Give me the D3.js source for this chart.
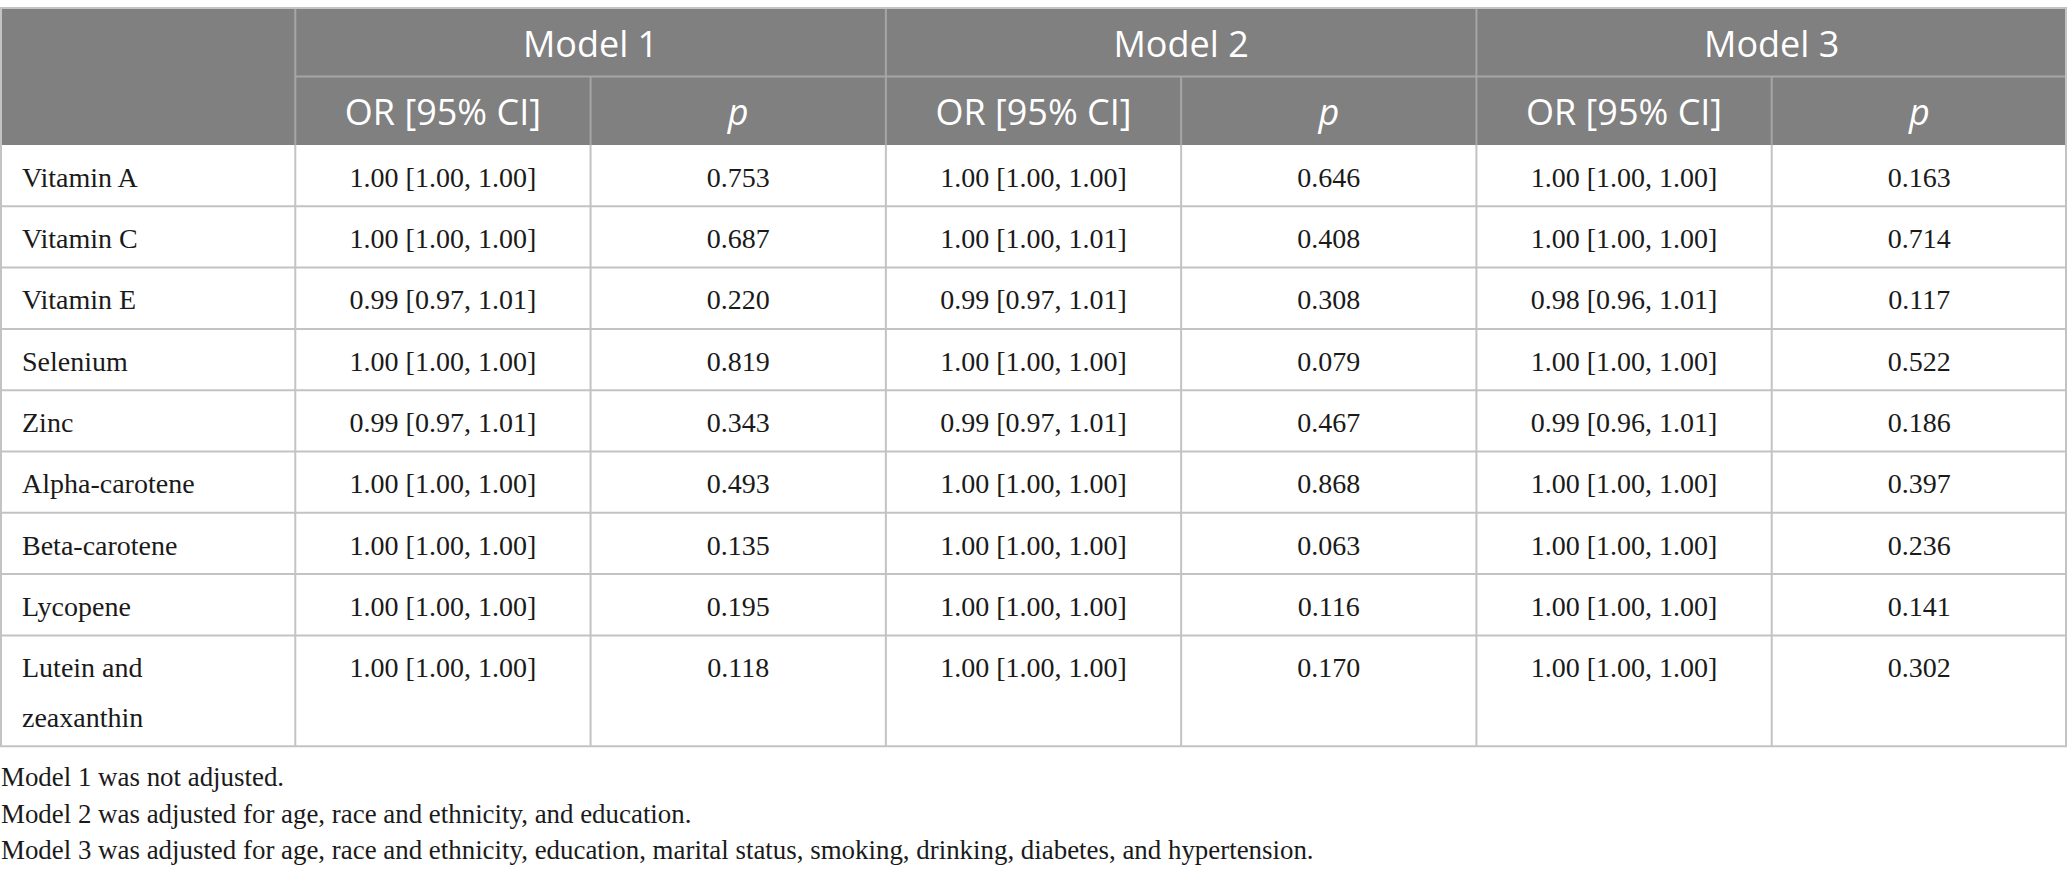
<!DOCTYPE html>
<html>
<head>
<meta charset="utf-8">
<script src="https://cdn.jsdelivr.net/npm/d3@7"></script>
<style>
  html, body { margin: 0; padding: 0; background: #ffffff; }
  svg { display: block; }
</style>
</head>
<body>
<svg id="chart" width="2068" height="879"></svg>
<script>
// ---------- data ----------
const variables = ["Vitamin A", "Vitamin C", "Vitamin E", "Selenium", "Zinc",
  "Alpha-carotene", "Beta-carotene", "Lycopene", "Lutein and zeaxanthin"];
const models = ["Model 1", "Model 2", "Model 3"];
const subHeaders = ["OR [95% CI]", "p"];

const m1OR = [1.00, 1.00, 0.99, 1.00, 0.99, 1.00, 1.00, 1.00, 1.00];
const m1Lo = [1.00, 1.00, 0.97, 1.00, 0.97, 1.00, 1.00, 1.00, 1.00];
const m1Hi = [1.00, 1.00, 1.01, 1.00, 1.01, 1.00, 1.00, 1.00, 1.00];
const m1P  = ["0.753", "0.687", "0.220", "0.819", "0.343", "0.493", "0.135", "0.195", "0.118"];

const m2OR = [1.00, 1.00, 0.99, 1.00, 0.99, 1.00, 1.00, 1.00, 1.00];
const m2Lo = [1.00, 1.00, 0.97, 1.00, 0.97, 1.00, 1.00, 1.00, 1.00];
const m2Hi = [1.00, 1.01, 1.01, 1.00, 1.01, 1.00, 1.00, 1.00, 1.00];
const m2P  = ["0.646", "0.408", "0.308", "0.079", "0.467", "0.868", "0.063", "0.116", "0.170"];

const m3OR = [1.00, 1.00, 0.98, 1.00, 0.99, 1.00, 1.00, 1.00, 1.00];
const m3Lo = [1.00, 1.00, 0.96, 1.00, 0.96, 1.00, 1.00, 1.00, 1.00];
const m3Hi = [1.00, 1.00, 1.01, 1.00, 1.01, 1.00, 1.00, 1.00, 1.00];
const m3P  = ["0.163", "0.714", "0.117", "0.522", "0.186", "0.397", "0.236", "0.141", "0.302"];

const footnotes = [
  "Model 1 was not adjusted.",
  "Model 2 was adjusted for age, race and ethnicity, and education.",
  "Model 3 was adjusted for age, race and ethnicity, education, marital status, smoking, drinking, diabetes, and hypertension."
];

// ---------- build table ----------
const f2 = d3.format(".2f");
const ci = (o, l, h) => `${f2(o)} [${f2(l)}, ${f2(h)}]`;
const modelData = [
  {or: m1OR, lo: m1Lo, hi: m1Hi, p: m1P},
  {or: m2OR, lo: m2Lo, hi: m2Hi, p: m2P},
  {or: m3OR, lo: m3Lo, hi: m3Hi, p: m3P}
];
const rows = variables.map((v, i) => {
  const cells = [v];
  modelData.forEach(m => { cells.push(ci(m.or[i], m.lo[i], m.hi[i])); cells.push(m.p[i]); });
  return cells;
});

// ---------- layout ----------
const svg = d3.select("#chart");
const colKeys = d3.range(7);
const x = d3.scaleBand().domain(colKeys).range([0, 2067]).paddingInner(0).paddingOuter(0);
const cw = x.bandwidth();

const tableTop = 8, h1 = 68.5, h2 = 68.5;
const headerBottom = tableTop + h1 + h2;
const baseRowH = 61.3, extraLineH = 49.5, bodyFont = 28;
const serif = "'Liberation Serif', 'Times New Roman', serif";
const sans = "'Open Sans', 'Noto Sans', sans-serif";
const headBg = "#7f807f", headLine = "#a5a6a5", bodyLine = "#c3c3c3";

// wrap first column labels
const measure = svg.append("text").attr("font-family", serif).attr("font-size", bodyFont).attr("visibility", "hidden");
const maxLabelW = 225;
const rowLines = rows.map(r => {
  const words = r[0].split(" ");
  const lines = [];
  let cur = "";
  words.forEach(w => {
    const test = cur ? cur + " " + w : w;
    measure.text(test);
    if (measure.node().getComputedTextLength() > maxLabelW && cur) { lines.push(cur); cur = w; }
    else cur = test;
  });
  if (cur) lines.push(cur);
  return lines;
});
measure.remove();

const rowTops = [];
let yAcc = headerBottom;
rowLines.forEach(l => { rowTops.push(yAcc); yAcc += baseRowH + (l.length - 1) * extraLineH; });
const tableBottom = yAcc;

// header background
svg.append("rect").attr("x", 0).attr("y", tableTop).attr("width", 2067).attr("height", h1 + h2).attr("fill", headBg);

// header row 1 labels
svg.selectAll("text.model").data(models).join("text")
  .attr("class", "model")
  .attr("x", (d, i) => x(1 + 2 * i) + cw)
  .attr("y", tableTop + h1 / 2 + 14.5)
  .attr("text-anchor", "middle")
  .attr("font-family", sans).attr("font-size", 36).attr("fill", "#ffffff")
  .text(d => d);

// header row 2 labels
const sub = [];
models.forEach((m, i) => subHeaders.forEach((s, j) => sub.push({col: 1 + 2 * i + j, text: s})));
svg.selectAll("text.sub").data(sub).join("text")
  .attr("class", "sub")
  .attr("x", d => x(d.col) + cw / 2)
  .attr("y", tableTop + h1 + h2 / 2 + 13.8)
  .attr("text-anchor", "middle")
  .attr("font-family", sans).attr("font-size", 36).attr("fill", "#ffffff")
  .attr("font-style", d => d.text === "p" ? "italic" : "normal")
  .text(d => d.text);

// header lines
const hl = svg.append("g").attr("stroke", headLine).attr("stroke-width", 2);
models.forEach((m, i) => {
  hl.append("line").attr("x1", x(1 + 2 * i)).attr("x2", x(1 + 2 * i) + 2 * cw)
    .attr("y1", tableTop + h1).attr("y2", tableTop + h1);
  hl.append("line").attr("x1", x(1 + 2 * i)).attr("x2", x(1 + 2 * i))
    .attr("y1", tableTop).attr("y2", headerBottom);
  hl.append("line").attr("x1", x(2 + 2 * i)).attr("x2", x(2 + 2 * i))
    .attr("y1", tableTop + h1).attr("y2", headerBottom);
});

// body lines
const bl = svg.append("g").attr("stroke", bodyLine).attr("stroke-width", 2).attr("fill", "none");
rowTops.slice(1).forEach(t => bl.append("line").attr("x1", 0).attr("x2", 2067).attr("y1", t).attr("y2", t));
colKeys.slice(1).forEach(c => bl.append("line").attr("x1", x(c)).attr("x2", x(c)).attr("y1", headerBottom).attr("y2", tableBottom));
// outer border
bl.append("line").attr("x1", 0).attr("x2", 2067).attr("y1", tableTop).attr("y2", tableTop);
bl.append("line").attr("x1", 0).attr("x2", 2067).attr("y1", tableBottom).attr("y2", tableBottom);
bl.append("line").attr("x1", 1).attr("x2", 1).attr("y1", tableTop).attr("y2", tableBottom);
bl.append("line").attr("x1", 2066).attr("x2", 2066).attr("y1", tableTop).attr("y2", tableBottom);

// body text
const bodyG = svg.append("g").attr("font-family", serif).attr("font-size", bodyFont).attr("fill", "#1a1a1a");
rows.forEach((r, i) => {
  const yb = rowTops[i] + 41.7;
  const lbl = bodyG.append("text").attr("x", 22).attr("y", yb);
  rowLines[i].forEach((ln, k) => lbl.append("tspan").attr("x", 22).attr("y", yb + k * extraLineH).text(ln));
  r.slice(1).forEach((c, j) => {
    bodyG.append("text").attr("x", x(j + 1) + cw / 2).attr("y", yb).attr("text-anchor", "middle").text(c);
  });
});

// footnotes
svg.selectAll("text.fn").data(footnotes).join("text")
  .attr("class", "fn")
  .attr("x", 1)
  .attr("y", (d, i) => tableBottom + 40 + i * 36.6)
  .attr("font-family", serif).attr("font-size", 26.9).attr("fill", "#1a1a1a")
  .text(d => d);
</script>
</body>
</html>
